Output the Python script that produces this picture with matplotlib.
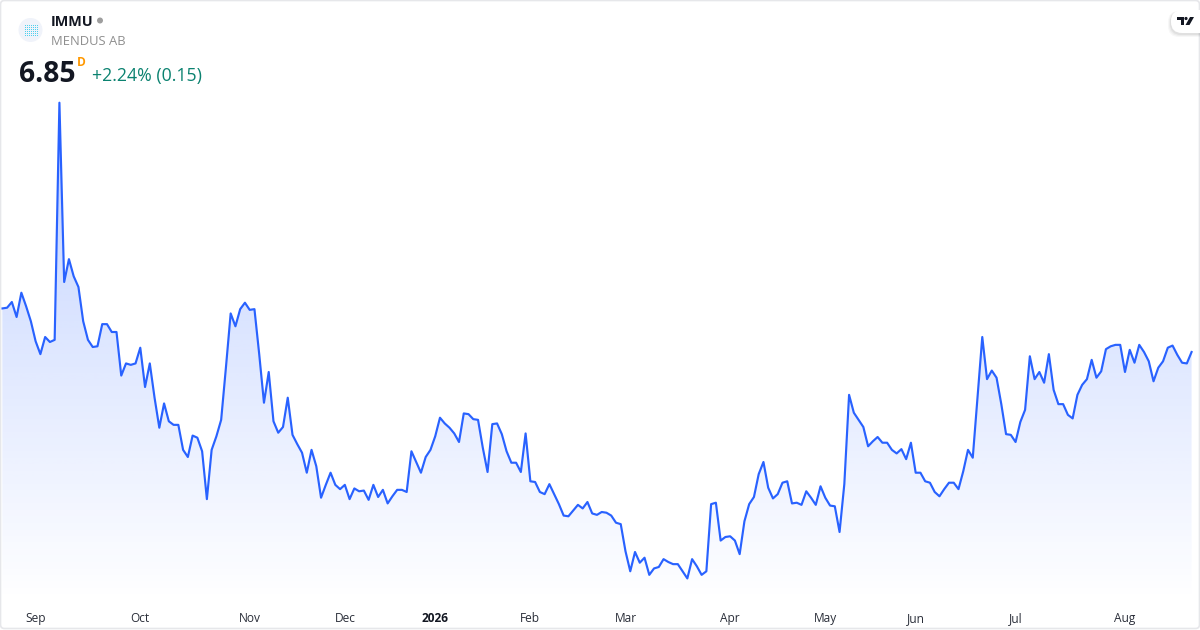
import numpy as np
import matplotlib
matplotlib.use('Agg')
import matplotlib.pyplot as plt
from matplotlib.patches import Circle, FancyBboxPatch, Polygon, Rectangle

plt.rcParams['font.family'] = ['Open Sans', 'DejaVu Sans']

# daily close
close = [
    7.46, 7.47, 7.55, 7.34, 7.68, 7.49, 7.28, 7.00, 6.82, 7.06, 6.99, 7.02, 10.34, 7.83, 8.15, 7.91,
    7.76, 7.28, 7.02, 6.92, 6.93, 7.24, 7.24, 7.13, 7.13, 6.52, 6.69, 6.67, 6.69, 6.91, 6.36, 6.69,
    6.21, 5.79, 6.13, 5.88, 5.83, 5.83, 5.48, 5.38, 5.68, 5.65, 5.46, 4.79, 5.48, 5.67, 5.90, 6.63,
    7.39, 7.21, 7.45, 7.54, 7.44, 7.45, 6.82, 6.14, 6.57, 5.88, 5.72, 5.80, 6.21, 5.69, 5.56, 5.44,
    5.16, 5.48, 5.25, 4.81, 4.99, 5.16, 4.99, 4.93, 4.99, 4.79, 4.94, 4.90, 4.91, 4.78, 4.99, 4.82,
    4.92, 4.73, 4.83, 4.92,
    4.92, 4.89, 5.46, 5.31, 5.16, 5.38, 5.48, 5.67, 5.93, 5.85, 5.79, 5.71, 5.59, 5.99, 5.98, 5.91,
    5.90, 5.51, 5.17, 5.84, 5.85, 5.70, 5.46, 5.30, 5.30, 5.17, 5.71, 5.04, 5.03, 4.89, 4.86, 5.00,
    4.86, 4.72, 4.56, 4.55, 4.63, 4.71, 4.66, 4.75, 4.59, 4.57, 4.61, 4.60, 4.56, 4.46, 4.44, 4.06,
    3.78, 4.05, 3.90, 3.97, 3.73, 3.82, 3.84, 3.95, 3.91, 3.88, 3.88, 3.78, 3.68, 3.95, 3.85, 3.73,
    3.78, 4.72, 4.74, 4.21, 4.26, 4.27, 4.21, 4.02, 4.48, 4.72, 4.82, 5.14, 5.31, 4.95, 4.80, 4.86,
    5.02, 5.04, 4.73, 4.74,
    4.71, 4.90, 4.81, 4.71, 4.97, 4.81, 4.70, 4.69, 4.33, 5.00, 6.25, 6.00, 5.90, 5.80, 5.53, 5.60,
    5.66, 5.58, 5.58, 5.48, 5.43, 5.49, 5.35, 5.58, 5.16, 5.16, 5.04, 5.02, 4.89, 4.83, 4.93, 5.02,
    5.02, 4.93, 5.18, 5.48, 5.37, 6.21, 7.06, 6.47, 6.59, 6.49, 6.12, 5.70, 5.69, 5.59, 5.87, 6.04,
    6.79, 6.47, 6.57, 6.42, 6.82, 6.32, 6.12, 6.12, 5.97, 5.92, 6.25, 6.39, 6.47, 6.74, 6.49, 6.58,
    6.89, 6.93, 6.95, 6.95, 6.57, 6.88, 6.70, 6.95, 6.85, 6.72, 6.44, 6.63, 6.72, 6.91, 6.94, 6.81,
    6.70, 6.69, 6.85,
]
month_idx = [7, 29, 52, 72, 91, 111, 131, 153, 173, 192, 213, 236]
month_labels = ['Sep', 'Oct', 'Nov', 'Dec', '2026', 'Feb', 'Mar', 'Apr', 'May', 'Jun', 'Jul', 'Aug']

W, H = 1200, 630
plot_bottom = 602  # px, top of the time scale
bar_px = 4.757
fig = plt.figure(figsize=(W / 100, H / 100), dpi=100, facecolor='white')
ax = fig.add_axes([0, 1 - plot_bottom / H, 1, plot_bottom / H])

x = np.arange(len(close))
y_top, y_bot = 11.778, 11.778 - 0.014 * plot_bottom
x_lim = (-0.49, -0.49 + W / bar_px)

# area under the line, gradient clipped to the polygon
area = ax.fill_between(x, close, y_bot, color='none', lw=0)
grad = np.zeros((256, 2, 4))
grad[..., :3] = matplotlib.colors.to_rgb('#2962ff')
grad[..., 3] = np.linspace(0.30, 0.0, 256)[:, None]
im = ax.imshow(grad, extent=(x[0], x[-1], y_bot, max(close)), origin='upper', aspect='auto', zorder=1)
im.set_clip_path(area.get_paths()[0], transform=ax.transData)
ax.set_xlim(*x_lim)
ax.set_ylim(y_bot, y_top)

ax.plot(x, close, color='#2962ff', lw=1.55, solid_joinstyle='round', zorder=3)

ax.set_xticks(month_idx)
ax.set_xticklabels(month_labels, fontsize=8.6, color='#2a2e39')
ax.get_xticklabels()[4].set_fontweight('bold')
ax.get_xticklabels()[4].set_color('#131722')
ax.tick_params(axis='x', length=0, pad=6.9)
ax.set_yticks([])
for s in ax.spines.values():
    s.set_visible(False)

# overlay in pixels for the header, logos and the card border
ov = fig.add_axes([0, 0, 1, 1], facecolor='none')
ov.set_xlim(0, W)
ov.set_ylim(H, 0)
ov.axis('off')
ov.add_patch(FancyBboxPatch((0.5, 0.5), W - 1, H - 2, boxstyle='round,pad=0,rounding_size=4',
                            fc='none', ec='#e6e7ea', lw=1.2))

ov.add_patch(Circle((30.5, 30), 12, fc='#f0f3fa', ec='none'))
for i in range(7):
    for j in range(6):
        ov.add_patch(Rectangle((24.5 + i * 2, 25 + j * 2), 1, 1, fc='#4fd0ee', ec='none'))

ov.text(51, 22, 'IMMU', fontsize=10.4, fontweight='bold', color='#131722', va='center')
ov.add_patch(Circle((100, 20.5), 3, fc='#9e9e9e', ec='none'))
ov.text(51, 41.5, 'MENDUS AB', fontsize=9.35, color='#8f8f8f', va='center')
ov.text(19, 74, '6.85', fontsize=20.3, fontweight='bold', color='#131722', va='center')
ov.text(77, 62.5, 'D', fontsize=8.6, fontweight='bold', color='#ff9800', va='center')
ov.text(92, 76, '+2.24% (0.15)', fontsize=12.8, color='#0b8270', va='center')

# TradingView badge
for off, a in [(3, 0.03), (2, 0.04), (1, 0.05)]:
    ov.add_patch(FancyBboxPatch((1171 - off, 11), 40 + off, 23 + off, boxstyle='round,pad=0,rounding_size=11',
                                fc='black', ec='none', alpha=a))
ov.add_patch(FancyBboxPatch((1171, 10), 40, 23, boxstyle='round,pad=0,rounding_size=11', fc='white', ec='none'))
ov.add_patch(Polygon([(1177, 17), (1184, 17), (1184, 25), (1180.5, 25), (1180.5, 20), (1177, 20)], fc='#131722', ec='none'))
ov.add_patch(Circle((1186, 18.5), 1.6, fc='#131722', ec='none'))
ov.add_patch(Polygon([(1190, 17), (1194, 17), (1189.5, 25), (1185.5, 25)], fc='#131722', ec='none'))

fig.savefig('out.png', dpi=100, facecolor='white')
